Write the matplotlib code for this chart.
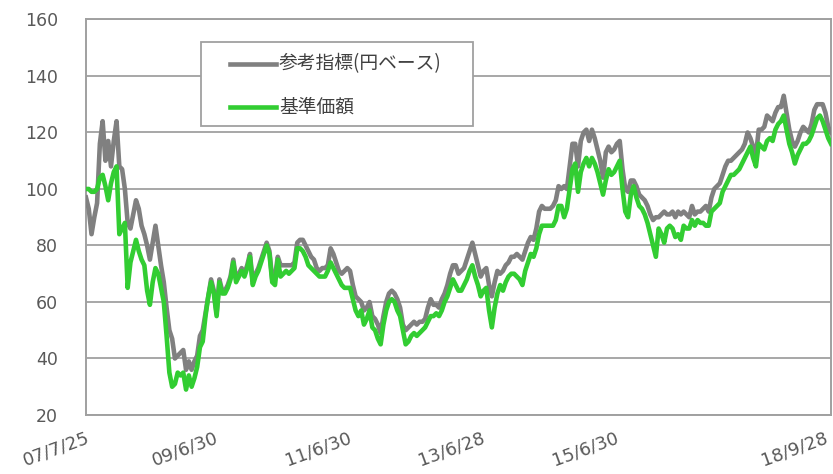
import numpy as np
import pandas as pd
import matplotlib
matplotlib.use("Agg")
from matplotlib import pyplot as plt
import matplotlib.dates as mdates
from matplotlib.patches import Rectangle

# half-monthly readings, 2007/7/25 .. 2018/9/28
start_date = "2007-07-25"
end_date = "2018-09-28"

index_vals = [
    97, 93, 84, 90, 95, 116, 124, 110, 117, 108,
    117, 124, 108, 107, 100, 88, 86, 91, 96, 93,
    87, 84, 80, 75, 81, 87, 80, 73, 67, 58,
    50, 47, 40, 41, 42, 43, 36, 39, 36, 39,
    41, 48, 50, 56, 62, 68, 64, 56, 68, 64,
    64, 66, 69, 75, 68, 70, 72, 70, 73, 77,
    67, 70, 72, 75, 78, 81, 78, 68, 69, 76,
    73, 73, 73, 73, 73, 74, 81, 82, 82, 80,
    78, 76, 75, 72, 71, 72, 72, 73, 79, 77,
    74, 71, 70, 71, 72, 71, 66, 62, 61, 60,
    57, 58, 60, 55, 54, 52, 49, 55, 60, 63,
    64, 63, 61, 58, 52, 50, 51, 52, 53, 52,
    53, 53, 54, 58, 61, 59, 59, 58, 61, 63,
    66, 70, 73, 73, 70, 71, 72, 75, 78, 81,
    77, 73, 69, 71, 72, 66, 62, 67, 71, 70,
    71, 73, 74, 76, 76, 77, 76, 75, 78, 81,
    83, 82, 86, 92, 94, 93, 93, 93, 94, 96,
    101, 100, 101, 100, 108, 116, 116, 108, 117, 120,
    121, 117, 121, 118, 114, 110, 104, 113, 115, 113,
    114, 116, 117, 107, 100, 99, 103, 103, 101, 98,
    97, 96, 94, 91, 89, 90, 90, 91, 92, 91,
    91, 92, 90, 92, 91, 92, 91, 90, 94, 91,
    92, 92, 93, 94, 92, 97, 100, 101, 102, 105,
    108, 110, 110, 111, 112, 113, 114, 116, 120, 118,
    115, 112, 121, 121, 122, 126, 125, 124, 127, 129,
    129, 133, 127, 121, 117, 115, 117, 120, 122, 121,
    120, 123, 128, 130, 130, 130, 127, 122, 120,
]

nav_vals = [
    100, 100, 99, 99, 100, 104, 105, 101, 96, 102,
    106, 108, 84, 86, 88, 65, 74, 78, 82, 78,
    75, 73, 64, 59, 67, 72, 70, 65, 60, 48,
    35, 30, 31, 35, 34, 35, 29, 34, 30, 33,
    37, 44, 46, 55, 62, 67, 63, 55, 67, 63,
    63, 65, 68, 74, 67, 69, 71, 69, 72, 76,
    66, 69, 71, 74, 77, 80, 77, 67, 66, 75,
    69, 70, 71, 70, 71, 72, 79, 79, 78, 76,
    73, 72, 71, 70, 69, 69, 69, 71, 74, 72,
    70, 68, 66, 65, 65, 65, 61, 57, 55, 57,
    52, 54, 57, 51, 50, 47, 45, 52, 57, 60,
    61, 60, 57, 55, 50, 45, 46, 48, 49, 48,
    49, 50, 51, 53, 55, 55, 56, 55, 57, 60,
    62, 65, 68, 66, 64, 64, 66, 68, 71, 73,
    69, 66, 62, 64, 65, 57, 51, 58, 63, 66,
    64, 67, 69, 70, 70, 69, 68, 66, 71, 74,
    77, 76, 79, 84, 87, 87, 87, 87, 87, 89,
    94, 94, 90, 93, 100, 107, 109, 99, 106, 109,
    111, 108, 111, 109, 106, 102, 98, 103, 107, 105,
    106, 108, 110, 100, 92, 90, 98, 101, 97, 94,
    93, 91, 88, 84, 80, 76, 86, 84, 81, 86,
    87, 86, 83, 84, 82, 87, 86, 86, 89, 87,
    89, 88, 88, 87, 87, 92, 93, 94, 95, 99,
    101, 103, 105, 105, 106, 107, 109, 111, 113, 115,
    111, 108, 116, 115, 114, 117, 118, 117, 121, 123,
    124, 126, 121, 116, 113, 109, 112, 114, 116, 116,
    117, 119, 122, 125, 126, 124, 121, 118, 116,
]

tick_dates = ["2007-07-25", "2009-06-30", "2011-06-30", "2013-06-28", "2015-06-30", "2018-09-28"]
tick_labels = ["07/7/25", "09/6/30", "11/6/30", "13/6/28", "15/6/30", "18/9/28"]
legend_labels = ["参考指標(円ベース)", "基準価額"]

dates = pd.date_range(start_date, end_date, periods=len(index_vals))

GRAY = "#808080"
GREEN = "#32cd32"
FRAME = "#a0a0a0"
TXT = "#595959"

fig = plt.figure(figsize=(8.33, 4.74), dpi=100)
ax = fig.add_axes([0.1032, 0.1245, 0.8944, 0.8344])

ax.plot(dates, index_vals, color=GRAY, lw=3.3, solid_joinstyle="round", zorder=3)
ax.plot(dates, nav_vals, color=GREEN, lw=3.3, solid_joinstyle="round", zorder=4)

ax.set_ylim(20, 160)
ax.set_yticks(range(20, 161, 20))
ax.set_xlim(pd.Timestamp(start_date), pd.Timestamp(end_date))
ax.set_xticks(pd.to_datetime(tick_dates))
# last label is drawn separately so it stays inside the figure
ax.set_xticklabels(tick_labels[:-1] + [""], rotation=20, ha="right", va="top",
                   rotation_mode="anchor")
ax.annotate(tick_labels[-1], xy=(mdates.date2num(pd.Timestamp(tick_dates[-1])), 0),
            xycoords=ax.get_xaxis_transform(), xytext=(-5, -10), textcoords="offset points",
            rotation=20, ha="right", va="top", rotation_mode="anchor",
            fontsize=13, color=TXT, annotation_clip=False)

ax.grid(axis="y", color=FRAME, lw=1.3, zorder=0)
for s in ax.spines.values():
    s.set_color(FRAME)
    s.set_linewidth(1.4)
ax.tick_params(axis="y", length=0, pad=20, labelsize=12.5, labelcolor=TXT)
ax.tick_params(axis="x", length=0, pad=10, labelsize=13, labelcolor=TXT)

# legend box drawn by hand (Excel-like padding)
ax.add_patch(Rectangle((0.154, 0.73), 0.365, 0.213, transform=ax.transAxes,
                       facecolor="white", edgecolor=FRAME, lw=1.3, zorder=5))
for i, (lab, col) in enumerate(zip(legend_labels, [GRAY, GREEN])):
    yy = 0.888 - i * 0.109
    ax.plot([0.193, 0.255], [yy, yy], transform=ax.transAxes, color=col, lw=3.3, zorder=6)
    ax.text(0.259, yy, lab, transform=ax.transAxes, va="center", ha="left",
            fontsize=13.5, color="#404040", zorder=6,
            family=["Noto Sans CJK JP", "DejaVu Sans"])

fig.savefig("out.png", dpi=100)
